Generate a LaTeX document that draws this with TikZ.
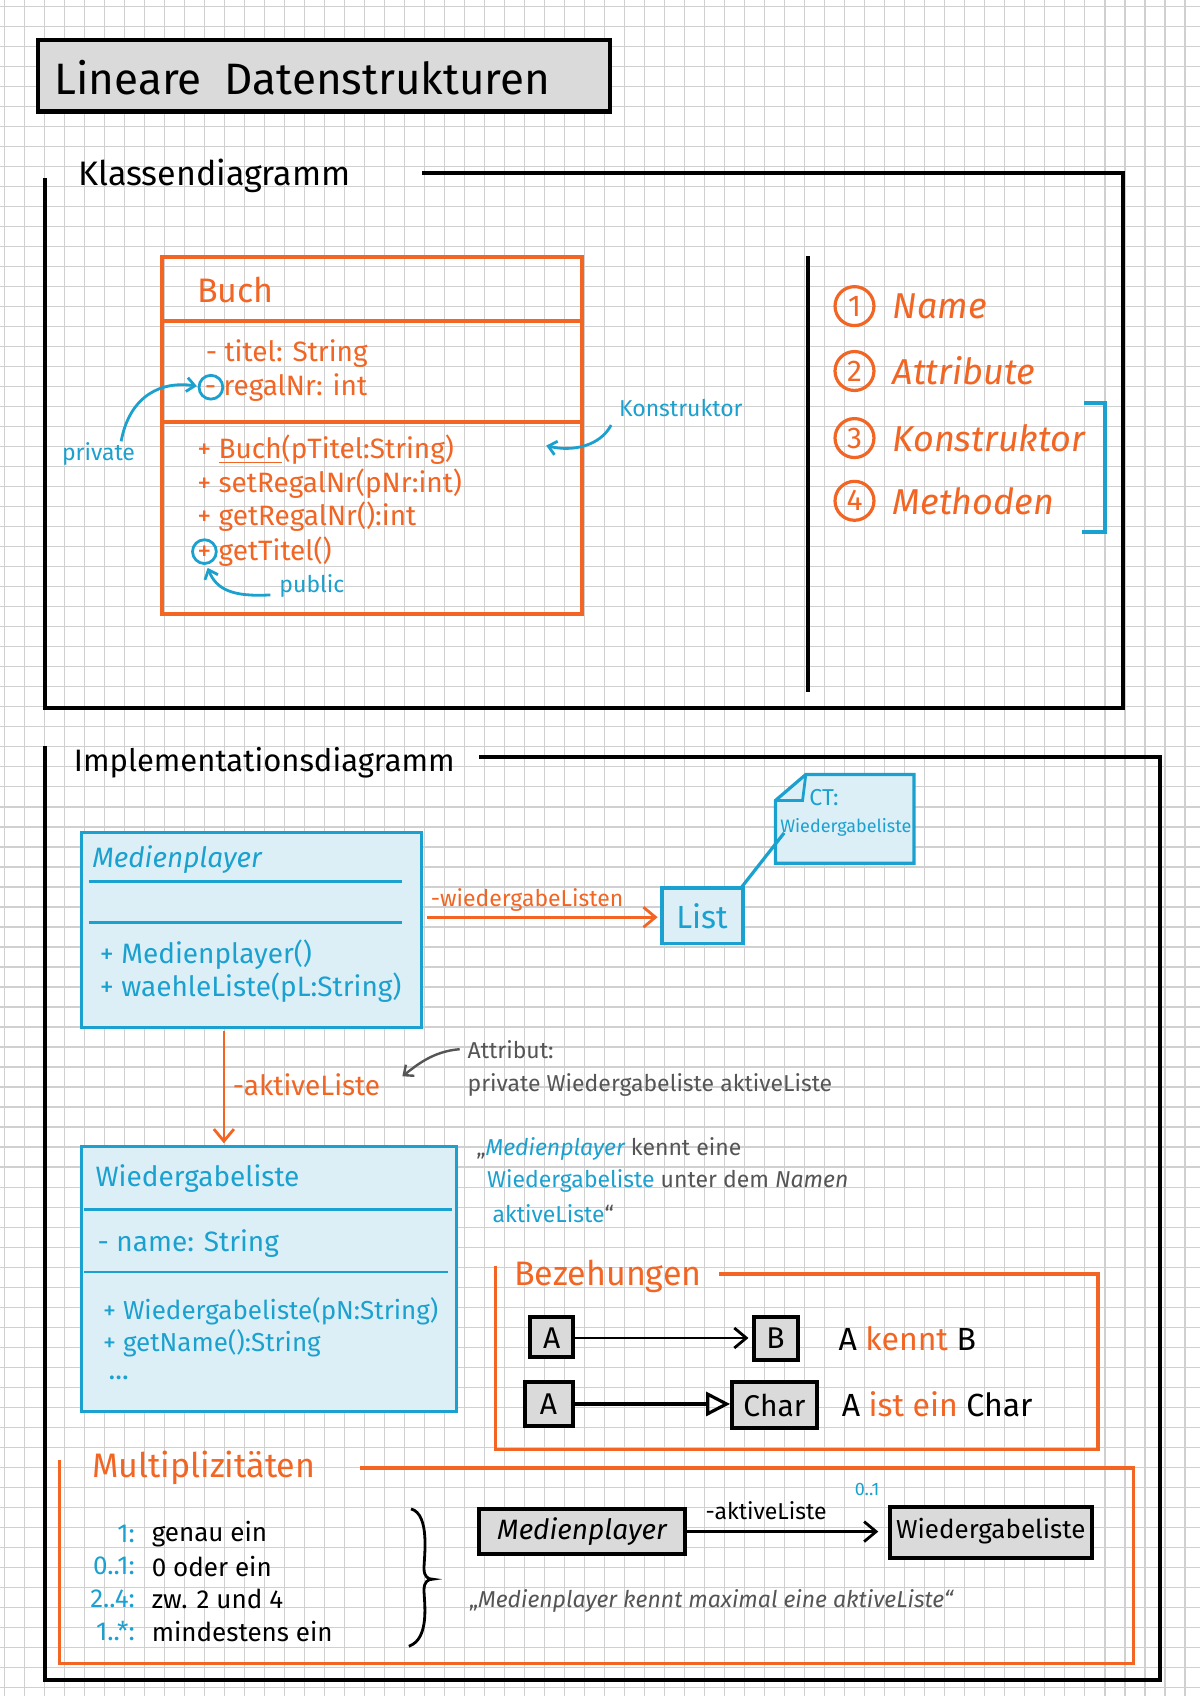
\documentclass[tikz,border=0pt]{standalone}
\usepackage{fontspec}
\setmainfont{Fira Sans}
\usetikzlibrary{arrows.meta}
\definecolor{org}{HTML}{F26522}
\definecolor{blu}{HTML}{1BA1CF}
\definecolor{lblu}{HTML}{DCEFF6}
\definecolor{gbox}{HTML}{DADADA}
\definecolor{gtx}{HTML}{555555}
\definecolor{gridc}{HTML}{D0D0D0}
\tikzset{
 frame/.style={line width=2pt,black},
 oframe/.style={line width=1.8pt,org},
 bbox/.style={line width=1.6pt,blu,fill=lblu},
 tx/.style={anchor=west,inner sep=0pt,font=\fontsize{14}{14}\selectfont},
 sm/.style={anchor=west,inner sep=0pt,font=\fontsize{11.5}{12}\selectfont},
 hd/.style={anchor=west,inner sep=0pt,font=\fontsize{17}{17}\selectfont},
 oarr/.style={-{Straight Barb[length=6pt,width=10pt]},line width=1.4pt,org},
 karr/.style={-{Straight Barb[length=6pt,width=10pt]},line width=1.4pt,black},
}
\begin{document}
\begin{tikzpicture}[x=0.541pt,y=-0.541pt]
\useasboundingbox (0,0) rectangle (1109,1568);
\fill[white] (0,0) rectangle (1109,1568);
\foreach \i in {0,...,60} {\draw[gridc,line width=0.6pt] (\i*18.5+4,0) -- (\i*18.5+4,1568);}
\foreach \i in {0,...,85} {\draw[gridc,line width=0.6pt] (0,\i*18.5+6) -- (1109,\i*18.5+6);}
% title
\draw[line width=2.2pt,fill=gbox] (35,37) rectangle (564,103);
\node[anchor=west,inner sep=0pt,font=\fontsize{22}{22}\selectfont] (title) at (50,72) {Lineare\ \ Datenstrukturen};
% Klassendiagramm frame
\node[hd] (kd) at (72,163) {Klassendiagramm};
\draw[frame] (42,165) -- (42,655) -- (1038,655) -- (1038,160) -- (390,160);
\draw[frame] (747,237) -- (747,640);
% Buch
\draw[line width=2pt,org] (150,238) rectangle (538,568);
\draw[line width=2pt,org] (150,297) -- (538,297) (150,390) -- (538,390);
\node[hd,org] (buch) at (182,268) {Buch};
\node[tx,org] (a1) at (190,327) {- titel: String};
\node[tx,org] (a2) at (189,358) {- regalNr: int};
\draw[blu,line width=1.4pt] (195,358) circle (11);
\node[tx,org] (m1) at (182,416) {+ \underline{Buch}(pTitel:String)};
\node[tx,org] (m2) at (182,447) {+ setRegalNr(pNr:int)};
\node[tx,org] (m3) at (182,478) {+ getRegalNr():int};
\node[tx,org] (m4) at (182,510) {+ getTitel()};
\draw[blu,line width=1.4pt] (189,510) circle (11);
\node[sm,blu] (priv) at (57,420) {private};
\draw[blu,line width=1.4pt,-{Straight Barb[length=4pt,width=7pt]}] (112,408) .. controls (120,365) and (150,352) .. (182,357);
\node[sm,blu] (kon) at (572,377) {Konstruktor};
\draw[blu,line width=1.4pt,-{Straight Barb[length=4pt,width=7pt]}] (565,393) .. controls (555,412) and (530,418) .. (505,412);
\node[sm,blu] (pub) at (258,542) {public};
\draw[blu,line width=1.4pt,-{Straight Barb[length=4pt,width=7pt]}] (250,550) .. controls (215,552) and (200,545) .. (192,525);
% right list
\foreach \y/\n/\t in {283/1/Name,343/2/Attribute,405/3/Konstruktor,463/4/Methoden}{
 \draw[org,line width=1.6pt] (790,\y) circle (18);
 \node[org,font=\fontsize{15}{15}\selectfont] at (790,\y) {\n};
 \node[hd,org,font=\fontsize{18}{18}\selectfont\itshape] at (825,\y) {\t};
}
\draw[blu,line width=2pt] (1002,373) -- (1022,373) -- (1022,492) -- (1000,492);
% Implementationsdiagramm frame
\node[hd,font=\fontsize{15.5}{16}\selectfont] (id) at (68,705) {Implementationsdiagramm};
\draw[frame] (42,690) -- (42,1553) -- (1072,1553) -- (1072,700) -- (443,700);
% Medienplayer
\draw[bbox] (75,770) rectangle (390,950);
\draw[blu,line width=1.4pt] (82,815) -- (372,815) (82,853) -- (372,853);
\node[tx,blu,font=\fontsize{14}{14}\selectfont\itshape] (mp) at (85,795) {Medienplayer};
\node[tx,blu] at (92,883) {+ Medienplayer()};
\node[tx,blu] at (92,913) {+ waehleListe(pL:String)};
\coordinate (mpR) at (395,848);
\coordinate (mpB) at (207,953);
% List
\draw[bbox] (612,821) rectangle (687,872);
\node[font=\fontsize{16}{16}\selectfont,blu] (list) at (649,847) {List};
\draw[oarr] (mpR) -- (608,848);
\node[sm,org] at (398,832) {-wiedergabeListen};
% note
\draw[bbox] (745,716) -- (845,716) -- (845,798) -- (717,798) -- (717,740) -- cycle;
\draw[blu,line width=1.4pt] (717,740) -- (742,740) -- (745,716);
\node[sm,blu] at (748,737) {CT:};
\node[sm,blu,font=\fontsize{9}{10}\selectfont] at (721,765) {Wiedergabeliste};
\draw[blu,line width=1.6pt] (685,821) -- (725,770);
% Wiedergabeliste
\draw[bbox] (75,1060) rectangle (422,1305);
\draw[blu,line width=1.4pt] (78,1118) -- (418,1118) (78,1176) -- (414,1176);
\node[tx,blu] (wl) at (88,1090) {Wiedergabeliste};
\node[tx,blu] at (90,1150) {- name: String};
\node[tx,blu,font=\fontsize{13}{13}\selectfont] at (95,1212) {+ Wiedergabeliste(pN:String)};
\node[tx,blu,font=\fontsize{13}{13}\selectfont] at (95,1242) {+ getName():String};
\node[tx,blu] at (100,1274) {...};
\draw[oarr] (mpB) -- (207,1057);
\node[tx,org] at (215,1003) {-aktiveListe};
\node[sm,gtx] at (432,970) {Attribut:};
\node[sm,gtx] at (432,1003) {private Wiedergabeliste aktiveListe};
\draw[gtx,line width=1.2pt,-{Straight Barb[length=4pt,width=7pt]}] (425,970) .. controls (400,972) and (385,985) .. (372,995);
\node[sm,gtx] at (440,1062) {„\textcolor{blu}{\itshape Medienplayer} kennt eine};
\node[sm,gtx] at (450,1092) {\textcolor{blu}{Wiedergabeliste} unter dem \itshape Namen};
\node[sm,gtx] at (455,1122) {\textcolor{blu}{aktiveListe}“};
% Beziehungen
\draw[oframe] (458,1170) -- (458,1340) -- (1015,1340) -- (1015,1178) -- (665,1178);
\node[hd,org] at (475,1180) {Bezehungen};
\draw[line width=2pt,fill=gbox] (490,1218) rectangle (530,1255);
\node[font=\fontsize{15}{15}\selectfont] (A1) at (510,1237) {A};
\draw[line width=2pt,fill=gbox] (697,1218) rectangle (738,1257);
\node[font=\fontsize{15}{15}\selectfont] (B1) at (717,1237) {B};
\draw[karr] (532,1237) -- (692,1237);
\node[tx,font=\fontsize{16}{16}\selectfont] at (775,1238) {A \textcolor{org}{kennt} B};
\draw[line width=2pt,fill=gbox] (485,1278) rectangle (530,1318);
\node[font=\fontsize{15}{15}\selectfont] (A2) at (507,1298) {A};
\draw[line width=2pt,fill=gbox] (677,1278) rectangle (755,1320);
\node[font=\fontsize{15}{15}\selectfont] (C2) at (716,1299) {Char};
\draw[line width=1.6pt,-{Triangle[open,length=12pt,width=12pt]}] (532,1298) -- (675,1298);
\node[tx,font=\fontsize{16}{16}\selectfont] at (778,1298) {A \textcolor{org}{ist ein} Char};
% Multiplizitaeten
\draw[oframe] (55,1350) -- (55,1538) -- (1048,1538) -- (1048,1357) -- (333,1357);
\node[hd,org] at (85,1357) {Multiplizitäten};
\foreach \y/\m/\t in {1418/1:/genau ein,1448/0..1:/0 oder ein,1478/2..4:/zw. 2 und 4,1508/1..*:/mindestens ein}{
 \node[anchor=east,inner sep=0pt,blu,font=\fontsize{13}{13}\selectfont] at (125,\y) {\m};
 \node[tx,font=\fontsize{13}{13}\selectfont] at (140,\y) {\t};
}
\draw[line width=1.4pt] (380,1395) .. controls (398,1400) and (392,1440) .. (392,1450) .. controls (392,1458) and (396,1460) .. (400,1460) .. controls (396,1460) and (392,1462) .. (392,1470) .. controls (392,1480) and (398,1515) .. (378,1522);
\draw[line width=2pt,fill=gbox] (443,1395) rectangle (633,1437);
\node[font=\fontsize{14}{14}\selectfont\itshape] (mp2) at (538,1416) {Medienplayer};
\draw[line width=2pt,fill=gbox] (823,1393) rectangle (1010,1440);
\node[font=\fontsize{13}{13}\selectfont] (wl2) at (916,1416) {Wiedergabeliste};
\draw[karr] (635,1416) -- (812,1416);
\node[sm] at (652,1397) {-aktiveListe};
\node[sm,blu,font=\fontsize{9}{9}\selectfont] at (790,1377) {0..1};
\node[sm,gtx] at (433,1480) {„\itshape Medienplayer kennt maximal eine aktiveListe“};
\end{tikzpicture}
\end{document}
